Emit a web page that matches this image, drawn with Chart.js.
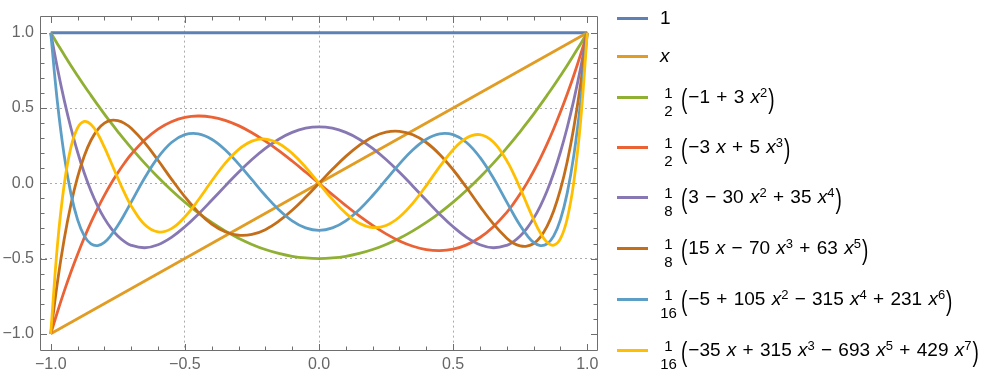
<!DOCTYPE html>
<html><head><meta charset="utf-8">
<script src="https://cdn.jsdelivr.net/npm/chart.js@4.4.0/dist/chart.umd.min.js"></script>
<style>
html,body{margin:0;padding:0;background:#fff;}
#wrap{position:relative;width:985px;height:380px;overflow:hidden;}
#c{position:absolute;left:0;top:0;}
.row{position:absolute;left:617px;height:40px;display:flex;align-items:center;font-family:"Liberation Sans",Arial,sans-serif;font-size:19px;color:#000;white-space:nowrap;word-spacing:1px;}
.sw{display:inline-block;width:31px;height:3px;margin-right:12px;}
.fr{display:inline-flex;flex-direction:column;align-items:center;font-size:15px;line-height:10px;position:relative;top:4.5px;min-width:17px;}
.fr span:first-child{margin-bottom:8px;}
.p{display:inline-block;transform:scaleY(1.45);position:relative;top:1.7px;margin:0 1px 0 4px;}
.p.r{margin:0 0 0 1px;}
sup{font-size:13px;vertical-align:0;position:relative;top:-6px;line-height:0;}
i{font-style:italic;}
</style>
</head><body>
<div id="wrap">
<canvas id="c" width="985" height="380"></canvas>
<div class="row" style="top:-2px"><span class="sw" style="background:#5E81B5"></span><span>1</span></div>
<div class="row" style="top:36px"><span class="sw" style="background:#E19C24"></span><span><i>x</i></span></div>
<div class="row" style="top:77px"><span class="sw" style="background:#8FB032"></span><span class="fr"><span>1</span><span>2</span></span><span class="p">(</span><span>−1 + 3 <i>x</i><sup>2</sup></span><span class="p r">)</span></div>
<div class="row" style="top:127px"><span class="sw" style="background:#EB6235"></span><span class="fr"><span>1</span><span>2</span></span><span class="p">(</span><span>−3 <i>x</i> + 5 <i>x</i><sup>3</sup></span><span class="p r">)</span></div>
<div class="row" style="top:177px"><span class="sw" style="background:#8778B3"></span><span class="fr"><span>1</span><span>8</span></span><span class="p">(</span><span>3 − 30 <i>x</i><sup>2</sup> + 35 <i>x</i><sup>4</sup></span><span class="p r">)</span></div>
<div class="row" style="top:228px"><span class="sw" style="background:#C56E1A"></span><span class="fr"><span>1</span><span>8</span></span><span class="p">(</span><span>15 <i>x</i> − 70 <i>x</i><sup>3</sup> + 63 <i>x</i><sup>5</sup></span><span class="p r">)</span></div>
<div class="row" style="top:279px"><span class="sw" style="background:#5D9EC7"></span><span class="fr"><span>1</span><span>16</span></span><span class="p">(</span><span>−5 + 105 <i>x</i><sup>2</sup> − 315 <i>x</i><sup>4</sup> + 231 <i>x</i><sup>6</sup></span><span class="p r">)</span></div>
<div class="row" style="top:330px"><span class="sw" style="background:#FFBF00"></span><span class="fr"><span>1</span><span>16</span></span><span class="p">(</span><span>−35 <i>x</i> + 315 <i>x</i><sup>3</sup> − 693 <i>x</i><sup>5</sup> + 429 <i>x</i><sup>7</sup></span><span class="p r">)</span></div>
</div>
<script>
// sample positions along x
const xs = [-1, -0.975, -0.95, -0.925, -0.9, -0.875, -0.85, -0.825, -0.8, -0.775, -0.75, -0.725, -0.7, -0.65, -0.6, -0.55, -0.5, -0.45, -0.4, -0.35, -0.3, -0.25, -0.2, -0.15, -0.1, -0.05, 0, 0.05, 0.1, 0.15, 0.2, 0.25, 0.3, 0.35, 0.4, 0.45, 0.5, 0.55, 0.6, 0.65, 0.7, 0.725, 0.75, 0.775, 0.8, 0.825, 0.85, 0.875, 0.9, 0.925, 0.95, 0.975, 1];
const xsEnds = [-1, 1];
// series values
const p0 = [1, 1];
const p1 = [-1, 1];
const p2 = [1, 0.926, 0.854, 0.783, 0.715, 0.648, 0.584, 0.521, 0.46, 0.401, 0.344, 0.288, 0.235, 0.134, 0.04, -0.046, -0.125, -0.196, -0.26, -0.316, -0.365, -0.406, -0.44, -0.466, -0.485, -0.496, -0.5, -0.496, -0.485, -0.466, -0.44, -0.406, -0.365, -0.316, -0.26, -0.196, -0.125, -0.046, 0.04, 0.134, 0.235, 0.288, 0.344, 0.401, 0.46, 0.521, 0.584, 0.648, 0.715, 0.783, 0.854, 0.926, 1];
const p3 = [-1, -0.855, -0.718, -0.591, -0.473, -0.362, -0.26, -0.166, -0.08, -0.001, 0.07, 0.135, 0.193, 0.288, 0.36, 0.409, 0.438, 0.447, 0.44, 0.418, 0.383, 0.336, 0.28, 0.217, 0.148, 0.075, 0, -0.075, -0.148, -0.217, -0.28, -0.336, -0.383, -0.418, -0.44, -0.447, -0.438, -0.409, -0.36, -0.288, -0.193, -0.135, -0.07, 0.001, 0.08, 0.166, 0.26, 0.362, 0.473, 0.591, 0.718, 0.855, 1];
const p4 = [1, 0.764, 0.554, 0.369, 0.208, 0.068, -0.051, -0.151, -0.233, -0.299, -0.35, -0.387, -0.412, -0.428, -0.408, -0.359, -0.289, -0.205, -0.113, -0.019, 0.073, 0.158, 0.232, 0.293, 0.338, 0.366, 0.375, 0.366, 0.338, 0.293, 0.232, 0.158, 0.073, -0.019, -0.113, -0.205, -0.289, -0.359, -0.408, -0.428, -0.412, -0.387, -0.35, -0.299, -0.233, -0.151, -0.051, 0.068, 0.208, 0.369, 0.554, 0.764, 1];
const p5 = [-1, -0.657, -0.373, -0.142, 0.041, 0.182, 0.286, 0.357, 0.4, 0.418, 0.416, 0.398, 0.365, 0.27, 0.153, 0.028, -0.09, -0.192, -0.271, -0.322, -0.345, -0.34, -0.308, -0.252, -0.179, -0.093, 0, 0.093, 0.179, 0.252, 0.308, 0.34, 0.345, 0.322, 0.271, 0.192, 0.09, -0.028, -0.153, -0.27, -0.365, -0.398, -0.416, -0.418, -0.4, -0.357, -0.286, -0.182, -0.041, 0.142, 0.373, 0.657, 1];
const p6 = [1, 0.537, 0.187, -0.067, -0.241, -0.349, -0.403, -0.414, -0.392, -0.345, -0.281, -0.206, -0.125, 0.035, 0.172, 0.271, 0.323, 0.329, 0.293, 0.223, 0.129, 0.024, -0.081, -0.175, -0.249, -0.296, -0.313, -0.296, -0.249, -0.175, -0.081, 0.024, 0.129, 0.223, 0.293, 0.329, 0.323, 0.271, 0.172, 0.035, -0.125, -0.206, -0.281, -0.345, -0.392, -0.414, -0.403, -0.349, -0.241, -0.067, 0.187, 0.537, 1];
const p7 = [-1, -0.41, -0.011, 0.237, 0.368, 0.411, 0.391, 0.329, 0.24, 0.138, 0.034, -0.064, -0.15, -0.274, -0.323, -0.301, -0.223, -0.111, 0.015, 0.132, 0.224, 0.28, 0.294, 0.265, 0.199, 0.107, 0, -0.107, -0.199, -0.265, -0.294, -0.28, -0.224, -0.132, -0.015, 0.111, 0.223, 0.301, 0.323, 0.274, 0.15, 0.064, -0.034, -0.138, -0.24, -0.329, -0.391, -0.411, -0.368, -0.237, 0.011, 0.41, 1];
const seriesNames = ['1', 'x', '½(−1+3x²)', '½(−3x+5x³)', '⅛(3−30x²+35x⁴)', '⅛(15x−70x³+63x⁵)', '1/16(−5+105x²−315x⁴+231x⁶)', '1/16(−35x+315x³−693x⁵+429x⁷)'];
// tick values / labels
const majorTicks = [-1, -0.5, 0, 0.5, 1];
const majorLabels = ['−1.0', '−0.5', '0.0', '0.5', '1.0'];
const minorTicks = [-1, -0.9, -0.8, -0.7, -0.6, -0.5, -0.4, -0.3, -0.2, -0.1, 0, 0.1, 0.2, 0.3, 0.4, 0.5, 0.6, 0.7, 0.8, 0.9, 1];

const colors = ['#5E81B5', '#E19C24', '#8FB032', '#EB6235', '#8778B3', '#C56E1A', '#5D9EC7', '#FFBF00'];
const seriesX = [xsEnds, xsEnds, xs, xs, xs, xs, xs, xs];
const seriesY = [p0, p1, p2, p3, p4, p5, p6, p7];

const FONT = '"Liberation Sans", Arial, sans-serif';
const isMajor = v => majorTicks.some(m => Math.abs(m - v) < 1e-9);
const labelFor = v => { const i = majorTicks.findIndex(m => Math.abs(m - v) < 1e-9); return i >= 0 ? majorLabels[i] : ''; };
const gridColor = ctx => { const v = ctx.tick ? ctx.tick.value : 99; return (isMajor(v) && Math.abs(v) < 0.99) ? '#ababab' : 'rgba(0,0,0,0)'; };

const framePlugin = {
  id: 'frame',
  afterDatasetsDraw(chart) {
    const {ctx, chartArea: a, scales: {x, y}} = chart;
    ctx.save();
    ctx.strokeStyle = '#6e6e6e';
    ctx.lineWidth = 1;
    ctx.beginPath();
    const L = Math.round(a.left) + 0.5, R = Math.round(a.right) - 0.5, T = Math.round(a.top) + 0.5, B = Math.round(a.bottom) - 0.5;
    ctx.rect(L, T, R - L, B - T);
    x.ticks.forEach(t => {
      const px = Math.round(x.getPixelForValue(t.value)) + 0.5;
      const len = isMajor(t.value) ? 6.5 : 4;
      ctx.moveTo(px, B); ctx.lineTo(px, B - len);
      ctx.moveTo(px, T); ctx.lineTo(px, T + len);
    });
    y.ticks.forEach(t => {
      const py = Math.round(y.getPixelForValue(t.value)) + 0.5;
      const len = isMajor(t.value) ? 6.5 : 4;
      ctx.moveTo(L, py); ctx.lineTo(L + len, py);
      ctx.moveTo(R, py); ctx.lineTo(R - len, py);
    });
    ctx.stroke();
    ctx.restore();
  }
};

const axisCommon = (fit) => ({
  type: 'linear',
  afterBuildTicks(scale) { scale.ticks = minorTicks.map(v => ({value: v})); },
  afterFit: fit,
  ticks: {autoSkip: false, maxRotation: 0, color: '#666', font: {size: 16, family: FONT}, callback: v => labelFor(v)},
  grid: {drawTicks: false, color: gridColor, lineWidth: 1},
  border: {display: false, dash: [2, 3]}
});

const xAxis = Object.assign(axisCommon(s => { s.height = 29; }), {min: -1.04, max: 1.04});
xAxis.ticks = Object.assign({}, xAxis.ticks, {padding: 4});
const yAxis = Object.assign(axisCommon(s => { s.width = 40; }), {min: -1.114, max: 1.114});
yAxis.ticks = Object.assign({}, yAxis.ticks, {padding: 6});

new Chart(document.getElementById('c'), {
  type: 'scatter',
  data: {
    datasets: seriesY.map((ys, i) => ({
      label: seriesNames[i],
      data: ys.map((v, k) => ({x: seriesX[i][k], y: v})),
      showLine: true,
      borderColor: colors[i],
      backgroundColor: colors[i],
      borderWidth: 2.8,
      pointRadius: 0,
      tension: 0.4,
      fill: false,
      order: 7 - i
    }))
  },
  options: {
    responsive: false,
    animation: false,
    devicePixelRatio: 1,
    layout: {padding: {top: 5, right: 387, left: 0, bottom: 0}},
    plugins: {legend: {display: false}, tooltip: {enabled: false}},
    scales: {x: xAxis, y: yAxis}
  },
  plugins: [framePlugin]
});
</script>
</body></html>
